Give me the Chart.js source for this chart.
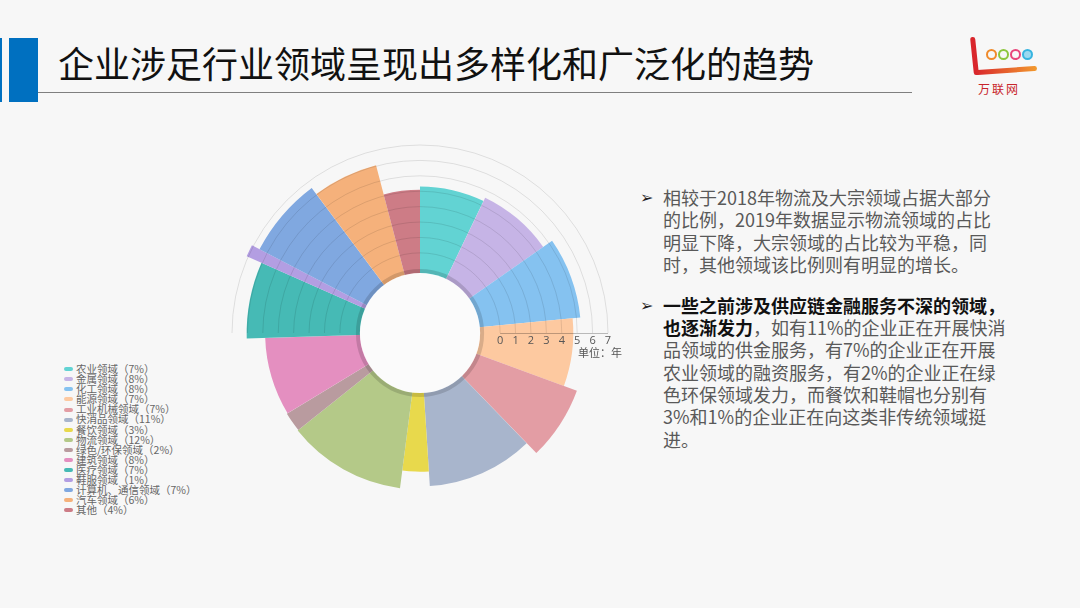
<!DOCTYPE html>
<html>
<head>
<meta charset="utf-8">
<script src="https://cdn.jsdelivr.net/npm/chart.js@4"></script>
<style>
  body { margin: 0; width: 1080px; height: 608px; background: #f7f7f7; position: relative; overflow: hidden;
         font-family: "Noto Sans CJK SC", "Noto Sans", sans-serif; }
  .bar-thin { position: absolute; left: 0; top: 38px; width: 2px; height: 64px; background: #0070c0; }
  .bar-thick { position: absolute; left: 9px; top: 38px; width: 29px; height: 64px; background: #0070c0; }
  .title { position: absolute; left: 58px; top: 38px; font-size: 36px; line-height: 48px; color: #111; white-space: nowrap; }
  .rule { position: absolute; left: 38px; top: 92px; width: 874px; height: 1px; background: #7f7f7f; }
  #chartBox { position: absolute; left: 200px; top: 113px; width: 440px; height: 440px; }
  #legend { position: absolute; left: 64px; top: 364px; font-size: 10.5px; color: #666; }
  #legend div { height: 10.1px; line-height: 10.1px; white-space: nowrap; }
  #legend span { display: inline-block; width: 9px; height: 4px; border-radius: 2px; margin-right: 3px; vertical-align: middle; position: relative; top: -1px; }
  .notes { position: absolute; left: 640px; top: 186px; font-size: 18px; line-height: 22.3px; color: #595959; }
  .para { position: relative; padding-left: 23px; white-space: nowrap; margin-bottom: 18.7px; }
  .para .arrow { position: absolute; left: 0; top: 1px; font-family: "DejaVu Sans"; font-size: 16px; color: #222; }
  .para b { color: #111; }
  .logo-l { position: absolute; left: 972px; top: 37px; width: 5px; height: 38px; background: #d9262c; border-radius: 3px; transform: rotate(-6deg); }
  .logo-base { position: absolute; left: 975px; top: 68px; width: 62px; height: 5px; background: linear-gradient(90deg, #d9262c, #f29a2e); border-radius: 3px; transform: rotate(-4deg); }
  .logo-c { position: absolute; top: 49px; width: 11px; height: 11px; border-radius: 50%; border: 2px solid; box-sizing: border-box; }
  .logo-t { position: absolute; left: 978px; top: 80px; font-size: 12px; color: #c8252b; font-family: "Noto Sans CJK SC"; letter-spacing: 2px; }
</style>
</head>
<body>
<div class="bar-thin"></div>
<div class="bar-thick"></div>
<div class="title">企业涉足行业领域呈现出多样化和广泛化的趋势</div>
<div class="rule"></div>

<div class="logo-l"></div>
<div class="logo-c" style="left:986px;border-color:#f08a2a;"></div>
<div class="logo-c" style="left:998px;border-color:#8cc63e;"></div>
<div class="logo-c" style="left:1010px;border-color:#e8457a;"></div>
<div class="logo-c" style="left:1022px;border-color:#36b4e0;background:#9ad9f0;"></div>
<div class="logo-base"></div>
<div class="logo-t">万联网</div>

<div id="chartBox"><canvas id="rose" width="440" height="440"></canvas></div>
<div id="legend"></div>

<div class="notes">
  <div class="para"><span class="arrow">➢</span>相较于2018年物流及大宗领域占据大部分<br>的比例，2019年数据显示物流领域的占比<br>明显下降，大宗领域的占比较为平稳，同<br>时，其他领域该比例则有明显的增长。</div>
  <div class="para"><span class="arrow">➢</span><b>一些之前涉及供应链金融服务不深的领域，</b><br><b>也逐渐发力</b>，如有11%的企业正在开展快消<br>品领域的供金服务，有7%的企业正在开展<br>农业领域的融资服务，有2%的企业正在绿<br>色环保领域发力，而餐饮和鞋帽也分别有<br>3%和1%的企业正在向这类非传统领域挺<br>进。</div>
</div>

<script>
// sectors: angle from share, radius from years
const labels = ['农业领域', '金属领域', '化工领域', '能源领域', '工业机械领域', '快消品领域', '餐饮领域', '物流领域',
                '绿色/环保领域', '建筑领域', '医疗领域', '鞋服领域', '计算机、通信领域', '汽车领域', '其他'];
const shares = [7, 8, 8, 7, 7, 11, 3, 12, 2, 8, 7, 1, 7, 6, 4];
const years = [4.3, 4.55, 5.25, 4.75, 5.65, 4.75, 3.8, 4.95, 4.9, 4.85, 6.05, 7.1, 6.55, 6.05, 4.1];
const colors = ['#62d3d3', '#c6b4e6', '#85c2f0', '#fdc9a0', '#e39da4', '#a8b5cc', '#e8d94c', '#b4c988',
                '#b99b9f', '#e48fc0', '#46bab5', '#b39ee2', '#80a8e0', '#f5b17b', '#cd7c86'];
const axisTicks = [0, 1, 2, 3, 4, 5, 6, 7];
const unitLabel = '单位：年';

const shareTotal = shares.reduce((a, b) => a + b, 0);

// legend
document.getElementById('legend').innerHTML = labels.map((l, i) =>
    `<div><span style="background:${colors[i]}"></span>${l}（${shares[i]}%）</div>`).join('');

const roseExtras = {
    id: 'roseExtras',
    afterDatasetsDraw(chart) {
        const ctx = chart.ctx;
        const s = chart.scales.r;
        const cx = s.xCenter, cy = s.yCenter;
        ctx.save();
        // upper half grid circles
        ctx.strokeStyle = 'rgba(0,0,0,0.1)';
        ctx.lineWidth = 1;
        axisTicks.forEach(v => {
            const r = s.getDistanceFromCenterForValue(v);
            ctx.beginPath();
            ctx.arc(cx, cy, r, Math.PI, 2 * Math.PI);
            ctx.stroke();
        });
        // axis line + labels
        const r0 = s.getDistanceFromCenterForValue(axisTicks[0]);
        const r1 = s.getDistanceFromCenterForValue(axisTicks[axisTicks.length - 1]);
        ctx.strokeStyle = 'rgba(0,0,0,0.25)';
        ctx.beginPath();
        ctx.moveTo(cx + r0, cy + 0.5);
        ctx.lineTo(cx + r1, cy + 0.5);
        ctx.stroke();
        ctx.fillStyle = '#555';
        ctx.font = '11px "Open Sans", "Noto Sans", sans-serif';
        ctx.textAlign = 'center';
        ctx.textBaseline = 'middle';
        axisTicks.forEach(v => {
            ctx.fillText(String(v), cx + s.getDistanceFromCenterForValue(v), cy + 8);
        });
        ctx.font = '11px "Noto Sans CJK SC", sans-serif';
        ctx.fillText(unitLabel, cx + r1 - 8, cy + 20);
        // hole with shadow ring
        const hole = s.getDistanceFromCenterForValue(-1.3);
        ctx.strokeStyle = 'rgba(0,0,0,0.14)';
        ctx.lineWidth = 4;
        ctx.beginPath();
        ctx.arc(cx, cy, hole + 2, 0, 2 * Math.PI);
        ctx.stroke();
        ctx.fillStyle = '#fbfbfb';
        ctx.beginPath();
        ctx.arc(cx, cy, hole, 0, 2 * Math.PI);
        ctx.fill();
        ctx.restore();
    }
};

new Chart(document.getElementById('rose').getContext('2d'), {
    type: 'polarArea',
    data: {
        labels,
        datasets: [{
            data: years,
            backgroundColor: colors,
            borderWidth: 0,
            angle: c => shares[c.dataIndex] / shareTotal * 360
        }]
    },
    options: {
        responsive: false,
        animation: false,
        layout: { padding: 32 },
        plugins: { legend: { display: false }, tooltip: { enabled: false } },
        scales: {
            r: {
                min: -5.2,
                max: 7,
                ticks: { display: false },
                grid: { display: false },
                angleLines: { display: false },
                pointLabels: { display: false }
            }
        }
    },
    plugins: [roseExtras]
});
</script>
</body>
</html>
